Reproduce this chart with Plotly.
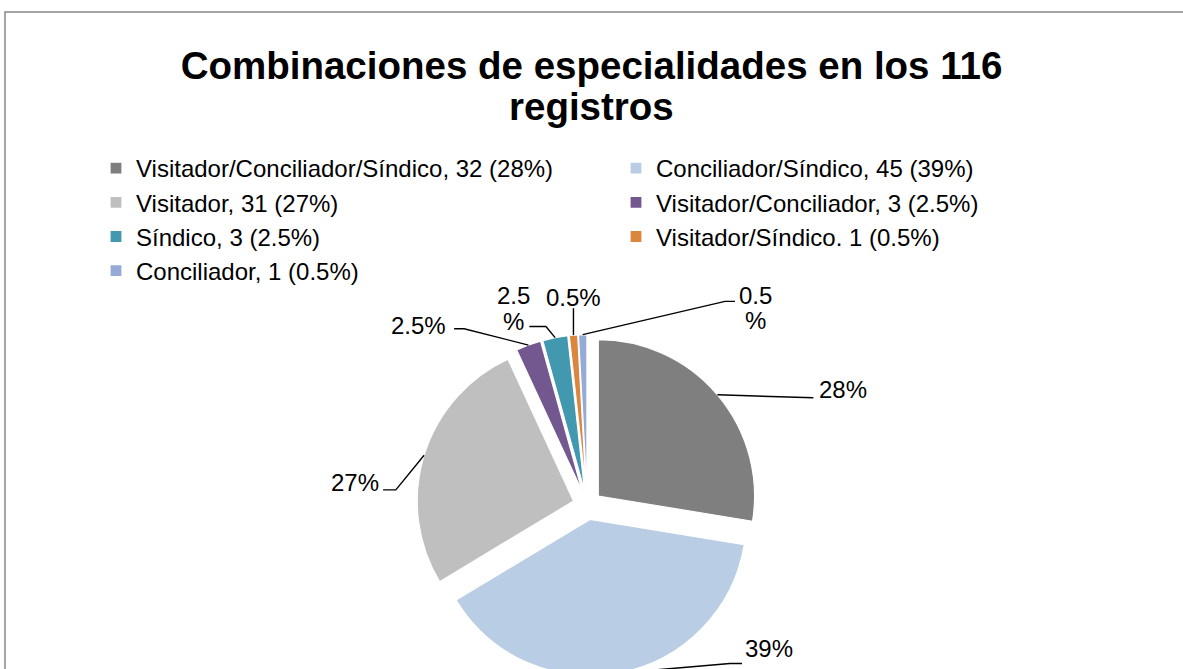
import math
import plotly.graph_objects as go

# ---------------- data ----------------
categories = [
    "Visitador/Conciliador/Síndico, 32 (28%)",
    "Conciliador/Síndico, 45 (39%)",
    "Visitador, 31 (27%)",
    "Visitador/Conciliador, 3 (2.5%)",
    "Síndico, 3 (2.5%)",
    "Visitador/Síndico. 1 (0.5%)",
    "Conciliador, 1 (0.5%)",
]
counts = [32, 45, 31, 3, 3, 1, 1]
slice_labels = ["28%", "39%", "27%", "2.5%", "2.5<br>%", "0.5%", "0.5<br>%"]
colors = ["#7F7F7F", "#B9CDE5", "#BFBFBF", "#72588F", "#4198AF", "#DC853D", "#95AAD4"]
title_lines = ["Combinaciones de especialidades en los 116", "registros"]

# ---------------- layout geometry ----------------
W, H = 1183, 676
CX, CY = 587.3, 505.3          # pie centre in pixels
PULL = 0.092
RX = 320.0
RY = H - CY
R = min(RX, RY) / (1 + PULL)   # plotly's radius rule
FONT = "Liberation Sans, Arial, sans-serif"
LABEL_SIZE = 24
LINE_GAP = 25.5

# leader line bends and label anchors, relative to slice edge point (pixels)
leader_paths = [
    [(0, 0), (96, 3)],
    [(0, 0), (110.5, -9.5), (122.5, -9.5)],
    [(0, 0), (-28.3, 34.7), (-41, 34.7)],
    [(0, 0), (-64.3, -16.3), (-74.3, -16.3)],
    [(0, 0), (-9.2, -11.2), (-25.8, -11.2)],
    [(0, 0), (0, -27)],
    [(0, 0), (142.3, -33.3), (152.3, -33.3)],
]
label_pos = [
    (100, -5, "left"),
    (124, -24.5, "left"),
    (-43, 27.5, "right"),
    (-80, -19.3, "right"),
    (-41.5, -29, "center"),
    (0, -37.6, "center"),
    (173, -26.7, "center"),
]


def px(x):
    return x / W


def py(y):
    return 1 - y / H


fig = go.Figure()
fig.add_trace(go.Pie(
    labels=categories,
    values=counts,
    sort=False,
    direction="clockwise",
    rotation=0,
    pull=[PULL] * len(counts),
    marker=dict(colors=colors, line=dict(color="white", width=1.2)),
    textinfo="none",
    hoverinfo="label+value",
    domain=dict(x=[px(CX - RX), px(CX + RX)], y=[0, 2 * RY / H]),
    showlegend=True,
))

# leader lines + labels computed from slice angles
total = sum(counts)
cum = 0.0
shapes = []
annotations = []
for i, v in enumerate(counts):
    mid = (cum + v / 2) / total * 2 * math.pi
    cum += v
    ux, uy = math.sin(mid), -math.cos(mid)
    ex = CX + (1 + PULL) * R * ux
    ey = CY + (1 + PULL) * R * uy
    pts = [(ex + dx, ey + dy) for dx, dy in leader_paths[i]]
    path = "M " + " L ".join(f"{px(x):.5f},{py(y):.5f}" for x, y in pts)
    shapes.append(dict(type="path", xref="paper", yref="paper", path=path,
                       line=dict(color="black", width=1.4)))
    lx, ly, anc = label_pos[i]
    parts = slice_labels[i].split("<br>")
    n = len(parts)
    for k, part in enumerate(parts):
        yy = ey + ly + (k - (n - 1) / 2) * LINE_GAP
        annotations.append(dict(
            text=part, x=px(ex + lx), y=py(yy), xref="paper", yref="paper",
            xanchor=anc, yanchor="middle", showarrow=False, align="center",
            font=dict(family=FONT, size=LABEL_SIZE, color="black"),
        ))

# second title line
annotations.append(dict(
    text=title_lines[1], x=0.5, y=py(107), xref="paper", yref="paper",
    xanchor="center", yanchor="middle", showarrow=False,
    font=dict(family=FONT, size=38.5, color="black", weight="bold"),
))

# chart area border
shapes.append(dict(type="rect", xref="paper", yref="paper",
                   x0=px(5), y0=-0.2, x1=1.2, y1=py(12),
                   line=dict(color="#868686", width=1.5), layer="above"))

fig.update_layout(
    width=W, height=H,
    margin=dict(l=0, r=0, t=0, b=0),
    paper_bgcolor="white", plot_bgcolor="white",
    font=dict(family=FONT, color="black"),
    title=dict(text=title_lines[0], x=0.5, xanchor="center", xref="container",
               y=py(66), yanchor="middle", yref="container",
               font=dict(family=FONT, size=38.5, color="black", weight="bold")),
    legend=dict(orientation="h", x=px(96), y=py(146), xanchor="left", yanchor="top",
                entrywidth=475, entrywidthmode="pixels", itemwidth=30,
                font=dict(family=FONT, size=24, color="black"),
                bgcolor="rgba(0,0,0,0)", traceorder="normal"),
    shapes=shapes,
    annotations=annotations,
)

fig.write_html("out.html", config={"displayModeBar": False},
               post_script="document.body.style.margin='0';document.body.style.overflow='hidden';")
